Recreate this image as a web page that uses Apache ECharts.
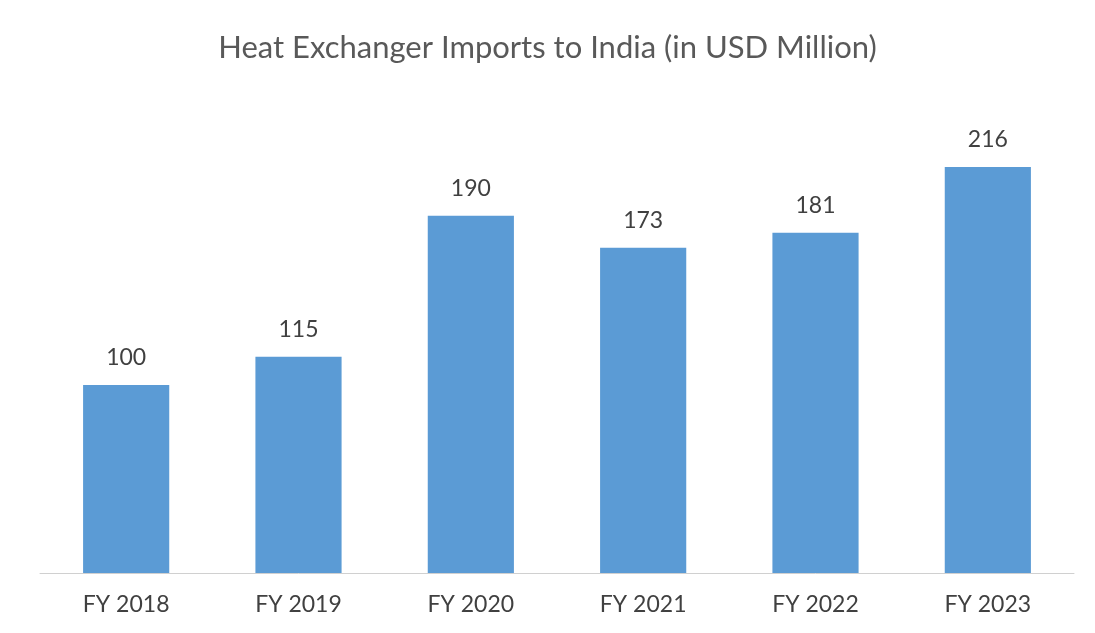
<!DOCTYPE html>
<html>
<head>
<meta charset="utf-8">
<script src="https://cdn.jsdelivr.net/npm/echarts@6/dist/echarts.min.js"></script>
<style>
    html, body { margin: 0; padding: 0; background: #fff; }
    #main { width: 1095px; height: 633px; }
</style>
</head>
<body>
<div id="main"></div>
<script>
    const categories = ['FY 2018', 'FY 2019', 'FY 2020', 'FY 2021', 'FY 2022', 'FY 2023'];
    const imports = [100, 115, 190, 173, 181, 216];

    let myChart = echarts.init(document.getElementById('main'));
    let option = {
        animation: false,
        textStyle: { fontFamily: 'Lato' },
        title: {
            text: 'Heat Exchanger Imports to India (in USD Million)',
            left: 'center',
            top: 27,
            textStyle: { fontSize: 31, fontWeight: 'normal', color: '#595959', fontFamily: 'Lato' }
        },
        grid: { left: 40, right: 21, top: 103, bottom: 60 },
        xAxis: {
            type: 'category',
            data: categories,
            axisLine: { lineStyle: { color: '#d0d0d0', width: 1 } },
            axisTick: { show: false },
            axisLabel: { color: '#404040', fontSize: 23, margin: 20 }
        },
        yAxis: {
            type: 'value',
            min: 0,
            max: 250,
            show: false,
            splitLine: { show: false }
        },
        series: [
            {
                name: 'Imports',
                type: 'bar',
                data: imports,
                barWidth: '50%',
                itemStyle: { color: '#5b9bd5' },
                label: {
                    show: true,
                    position: 'top',
                    distance: 16,
                    color: '#404040',
                    fontSize: 23
                }
            }
        ]
    };
    myChart.setOption(option);
</script>
</body>
</html>
